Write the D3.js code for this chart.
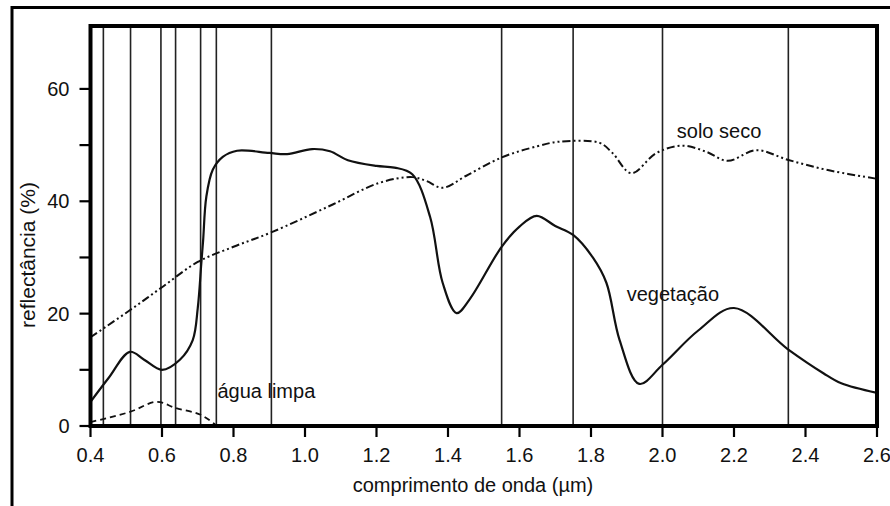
<!DOCTYPE html>
<html><head><meta charset="utf-8">
<script src="https://cdn.jsdelivr.net/npm/d3@7"></script>
<style>
html,body{margin:0;padding:0;background:#fff;}
svg{display:block;}
text{font-family:"Liberation Sans",Arial,sans-serif;fill:#111;}
</style></head>
<body>
<svg id="c" width="890" height="506"></svg>
<script>
// ---- data (wavelength µm, reflectance %) ----
const vegWave = [0.40,0.45,0.51,0.55,0.60,0.65,0.686,0.70,0.71,0.715,0.724,0.742,0.77,0.81,0.90,0.95,1.02,1.07,1.12,1.20,1.25,1.30,1.35,1.385,1.424,1.46,1.55,1.60,1.648,1.70,1.75,1.805,1.843,1.88,1.935,2.00,2.10,2.20,2.35,2.45,2.50,2.60];
const vegRefl = [4.3,8.5,13.2,11.8,10.0,11.8,15.3,21.0,29.0,33.0,40.8,45.6,47.9,49.0,48.6,48.4,49.3,48.9,47.3,46.3,46.0,44.8,37.2,25.5,20.1,22.5,31.9,35.5,37.4,35.6,34.0,30.0,25.5,15.3,7.5,10.9,17.0,21.0,13.7,9.4,7.6,5.9];

const soilWave = [0.40,0.51,0.60,0.70,0.80,0.907,1.07,1.209,1.30,1.34,1.385,1.45,1.55,1.65,1.71,1.824,1.86,1.913,1.983,2.056,2.123,2.182,2.263,2.35,2.459,2.60];
const soilRefl = [15.8,20.6,24.7,29.2,31.9,34.5,39.2,43.3,44.3,43.6,42.4,44.5,47.8,49.8,50.6,50.4,48.6,45.0,48.6,49.9,48.8,47.2,49.1,47.4,45.6,44.0];

const waterWave = [0.40,0.51,0.585,0.638,0.708,0.75];
const waterRefl = [0.7,2.5,4.3,3.2,2.0,0.2];

const bandLines = [0.436,0.512,0.597,0.638,0.708,0.752,0.906,1.55,1.75,2.00,2.352];

const xTicks = [0.4,0.6,0.8,1.0,1.2,1.4,1.6,1.8,2.0,2.2,2.4,2.6];
const xTickLabels = ["0.4","0.6","0.8","1.0","1.2","1.4","1.6","1.8","2.0","2.2","2.4","2.6"];
const yMajor = [0,20,40,60];
const yMinor = [10,30,50];

const labels = [
  {text:"solo seco", w:2.04, v:51.2},
  {text:"vegetação", w:1.90, v:22.3},
  {text:"água limpa", w:0.755, v:5.0}
];

// ---- layout ----
const svg = d3.select("#c");
const L = 90.5, R = 877, T = 26, B = 426;
const x = d3.scaleLinear().domain([0.4, 2.6]).range([L, R]);
const y = d3.scaleLinear().domain([0, 71.2]).range([B, T]);

// outer frame
svg.append("path").attr("d", `M12,506 V7.5 H890`).attr("fill","none").attr("stroke","#000").attr("stroke-width",3);

// band lines
svg.append("g").selectAll("line").data(bandLines).join("line")
  .attr("x1", d=>x(d)).attr("x2", d=>x(d)).attr("y1", y(0)).attr("y2", T)
  .attr("stroke","#222").attr("stroke-width",1.6);

// curves
const line = (ws, vs) => d3.line().x((d,i)=>x(ws[i])).y((d,i)=>y(vs[i])).curve(d3.curveCatmullRom.alpha(0.5))(ws);

svg.append("path").attr("d", line(soilWave, soilRefl)).attr("fill","none")
  .attr("stroke","#111").attr("stroke-width",2).attr("stroke-dasharray","8,3,2,3,2,3");
svg.append("path").attr("d", line(vegWave, vegRefl)).attr("fill","none")
  .attr("stroke","#111").attr("stroke-width",2.2);
svg.append("path").attr("d", line(waterWave, waterRefl)).attr("fill","none")
  .attr("stroke","#111").attr("stroke-width",1.8).attr("stroke-dasharray","6,4");

// plot frame
svg.append("rect").attr("x", L).attr("y", T).attr("width", R-L).attr("height", B-T)
  .attr("fill","none").attr("stroke","#000").attr("stroke-width",4);

// x axis ticks
const gx = svg.append("g");
gx.selectAll("line").data(xTicks).join("line")
  .attr("x1", d=>x(d)).attr("x2", d=>x(d)).attr("y1", B).attr("y2", B+11)
  .attr("stroke","#000").attr("stroke-width",2.2);
gx.selectAll("text").data(xTicks).join("text")
  .attr("x", d=>x(d)).attr("y", B+36).attr("text-anchor","middle")
  .attr("font-size",20).text((d,i)=>xTickLabels[i]);

// y axis ticks
const gy = svg.append("g");
gy.selectAll("line").data(yMajor.concat(yMinor)).join("line")
  .attr("x1", L-11).attr("x2", L).attr("y1", d=>y(d)).attr("y2", d=>y(d))
  .attr("stroke","#000").attr("stroke-width",2.2);
gy.selectAll("text").data(yMajor).join("text")
  .attr("x", L-21).attr("y", d=>y(d)).attr("dy","0.36em").attr("text-anchor","end")
  .attr("font-size",20).text(d=>d);

// axis titles
svg.append("text").attr("x", 473).attr("y", 492).attr("text-anchor","middle")
  .attr("font-size",20).text("comprimento de onda (µm)");
svg.append("text").attr("transform","translate(35,255) rotate(-90)").attr("text-anchor","middle")
  .attr("font-size",21).text("reflectância (%)");

// series labels
svg.append("g").selectAll("text").data(labels).join("text")
  .attr("x", d=>x(d.w)).attr("y", d=>y(d.v)).attr("font-size",20).text(d=>d.text);
</script>
</body></html>
